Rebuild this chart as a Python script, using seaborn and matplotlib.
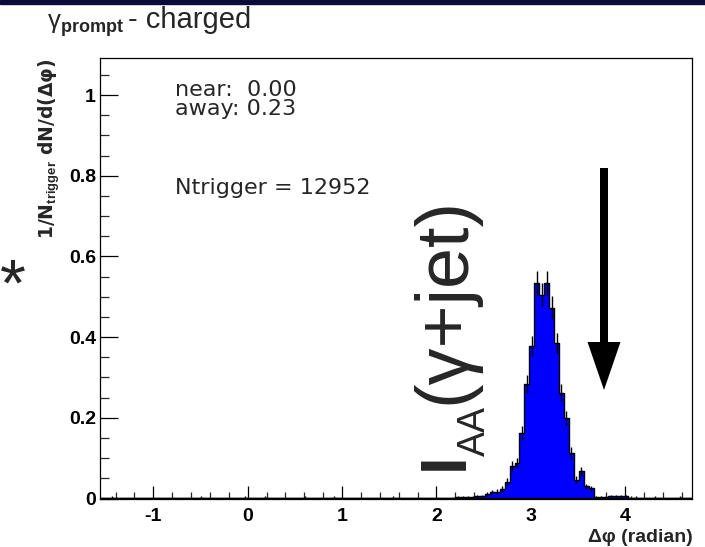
import numpy as np
import pandas as pd
import matplotlib
matplotlib.use("Agg")
import matplotlib.pyplot as plt
import seaborn as sns
from matplotlib.patches import Rectangle, FancyArrow
from matplotlib.transforms import IdentityTransform
from matplotlib.ticker import MultipleLocator

# ---------------- data ----------------
n_bins = 120                      # Δφ bins over [-π/2, 3π/2]
filled_bins = [2, 20, 29, 33, 41, 47, 59, 72, 73, 74, 75, 76, 77, 78, 79, 80, 81,
               82, 83, 84, 85, 86, 87, 88, 89, 90, 91, 92, 93, 94, 95, 96, 97,
               98, 99, 100, 101, 102, 103, 104, 105, 106, 107, 108, 112, 117]
bin_values = [0.002, 0.002, 0.002, 0.002, 0.002, 0.002, 0.002, 0.003, 0.003, 0.003,
              0.003, 0.005, 0.005, 0.010, 0.016, 0.017, 0.024,
              0.042, 0.080, 0.088, 0.162, 0.283, 0.378, 0.535, 0.505, 0.535, 0.473,
              0.386, 0.262, 0.200, 0.113, 0.047, 0.067,
              0.030, 0.025, 0.003, 0.003, 0.003, 0.005, 0.005, 0.005, 0.005, 0.002,
              0.002, 0.002, 0.002]
bin_errors = [0.003, 0.003, 0.003, 0.003, 0.003, 0.003, 0.003, 0.003, 0.003, 0.003,
              0.003, 0.004, 0.004, 0.005, 0.006, 0.006, 0.007,
              0.009, 0.012, 0.013, 0.017, 0.022, 0.025, 0.030, 0.029, 0.030, 0.028,
              0.025, 0.021, 0.018, 0.014, 0.009, 0.011,
              0.007, 0.007, 0.003, 0.003, 0.003, 0.004, 0.004, 0.004, 0.004, 0.003,
              0.003, 0.003, 0.003]
near_yield = "0.00"
away_yield = "0.23"
n_trigger = 12952
xtick_values = [-1, 0, 1, 2, 3, 4]
ytick_values = [0, 0.2, 0.4, 0.6, 0.8, 1]
ytick_labels = ["0", "0.2", "0.4", "0.6", "0.8", "1"]

# ---------------- build histogram arrays ----------------
phi_lo, phi_hi = -np.pi / 2, 3 * np.pi / 2
edges = np.linspace(phi_lo, phi_hi, n_bins + 1)
centers = 0.5 * (edges[:-1] + edges[1:])
values = np.zeros(n_bins)
errors = np.zeros(n_bins)
values[filled_bins] = bin_values
errors[filled_bins] = bin_errors
df = pd.DataFrame({"dphi": centers, "w": values, "err": errors})

# ---------------- figure ----------------
sns.set_theme(style="white")
plt.rcParams["font.family"] = ["Liberation Sans", "DejaVu Sans"]
plt.rcParams["mathtext.default"] = "regular"
plt.rcParams["mathtext.fontset"] = "custom"
plt.rcParams["mathtext.rm"] = "Liberation Sans"
plt.rcParams["mathtext.bf"] = "Liberation Sans:bold"

W, H = 705, 547
fig = plt.figure(figsize=(W / 100, H / 100), dpi=100)
fig.patch.set_facecolor("white")

def fx(px):
    return px / W

def fy(py):
    return 1 - py / H

ax_l, ax_r, ax_t, ax_b = 99.5, 692.4, 58.3, 498.5
ax = fig.add_axes([fx(ax_l), fy(ax_b), fx(ax_r) - fx(ax_l), fy(ax_t) - fy(ax_b)])
ax.set_facecolor("white")

sns.histplot(data=df, x="dphi", weights="w", bins=n_bins, binrange=(phi_lo, phi_hi),
             element="step", fill=True, color="#0000ff", edgecolor="black",
             linewidth=1.0, alpha=1.0, ax=ax)
nz = df[df["err"] > 0]
ax.errorbar(nz["dphi"], nz["w"], yerr=nz["err"],
            fmt="none", ecolor="black", elinewidth=1.0, capsize=0)

ax.set_xlim(phi_lo, phi_hi)
ax.set_ylim(0, 1.091)
ax.set_xlabel("")
ax.set_ylabel("")

for s in ax.spines.values():
    s.set_visible(True)
    s.set_color("black")
    s.set_linewidth(0.9)

ax.set_xticks(xtick_values)
ax.set_xticklabels([str(v) for v in xtick_values])
ax.set_yticks(ytick_values)
ax.set_yticklabels(ytick_labels)
ax.xaxis.set_minor_locator(MultipleLocator(0.2))
ax.yaxis.set_minor_locator(MultipleLocator(0.05))
ax.tick_params(axis="x", which="major", direction="in", length=9.5, width=0.9,
               pad=7, labelsize=14, bottom=True, top=False, colors="black")
ax.tick_params(axis="x", which="minor", direction="in", length=4.7, width=0.9,
               bottom=True, top=False)
ax.tick_params(axis="y", which="major", direction="in", length=13, width=0.9,
               pad=2.5, labelsize=14, left=True, right=False, colors="black")
ax.tick_params(axis="y", which="minor", direction="in", length=6.7, width=0.9,
               left=True, right=False)
for lab in ax.get_xticklabels() + ax.get_yticklabels():
    lab.set_fontweight("bold")
ax.grid(False)

# axis titles
fig.text(fx(693), fy(538), "Δφ (radian)", ha="right", va="center",
         fontsize=14, fontweight="bold")
fig.text(fx(49), fy(58), r"1/N$_{\bf trigger}$ dN/d(Δφ)", rotation=90,
         ha="center", va="top", fontsize=13.5, fontweight="bold",
         family="DejaVu Sans")

# title
fig.text(fx(47), fy(26), r"γ$_{\bf prompt}$", ha="left", va="center", fontsize=18.5)
fig.text(fx(128), fy(20), "- charged", ha="left", va="center", fontsize=21)

# in-plot annotations
fig.text(fx(175), fy(90), f"near:  {near_yield}", ha="left", va="center",
         fontsize=16, family="DejaVu Sans")
fig.text(fx(175), fy(109), f"away: {away_yield}", ha="left", va="center",
         fontsize=16, family="DejaVu Sans")
fig.text(fx(175), fy(188), f"Ntrigger = {n_trigger}", ha="left", va="center",
         fontsize=16, family="DejaVu Sans")

# overlay: I_AA(γ+jet), rotated, baseline-anchored pieces
fig.text(fx(463), fy(470), "I", rotation=90, rotation_mode="anchor",
         ha="left", va="baseline", fontsize=46, fontweight="bold")
fig.text(fx(485), fy(456), "AA", rotation=90, rotation_mode="anchor",
         ha="left", va="baseline", fontsize=27)
fig.text(fx(464), fy(404), "(γ+jet)", rotation=90, rotation_mode="anchor",
         ha="left", va="baseline", fontsize=53)

# overlay arrow (display pixels, origin bottom-left)
fig.add_artist(FancyArrow(604, H - 168, 0, -(390 - 168), width=8, head_width=33,
                          head_length=48, length_includes_head=True,
                          transform=IdentityTransform(), color="black",
                          linewidth=0))
fig.text(fx(13), fy(289), "*", ha="center", va="center", fontsize=48)

# dark band at the top
fig.add_artist(Rectangle((0, fy(4)), 1, fy(0) - fy(4), transform=fig.transFigure,
                         color="#0b0b3a", zorder=10))

fig.savefig("out.png", dpi=100, facecolor="white")
